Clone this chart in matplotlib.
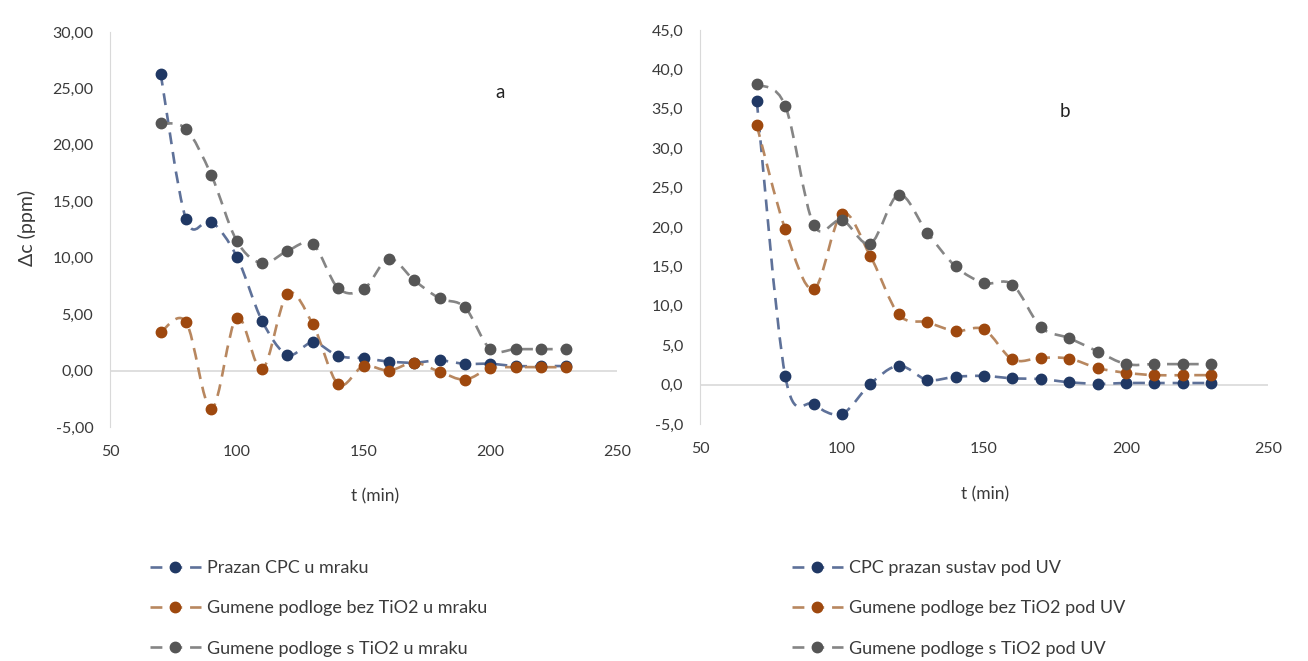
import matplotlib
matplotlib.use('Agg')
import matplotlib.pyplot as plt
from matplotlib.path import Path
from matplotlib.patches import PathPatch
from matplotlib.lines import Line2D

plt.rcParams['font.family'] = ['Lato', 'DejaVu Sans']

# vrijeme (min)
t_min = [70, 80, 90, 100, 110, 120, 130, 140, 150, 160, 170, 180, 190, 200, 210, 220, 230]

# a - u mraku
prazan_mrak = [26.3, 13.4, 13.2, 10.1, 4.4, 1.4, 2.5, 1.3, 1.1, 0.8, 0.7, 0.9, 0.6, 0.6, 0.4, 0.4, 0.4]
bez_tio2_mrak = [3.4, 4.3, -3.4, 4.7, 0.1, 6.8, 4.1, -1.2, 0.4, 0.0, 0.7, -0.1, -0.8, 0.2, 0.3, 0.3, 0.3]
s_tio2_mrak = [21.9, 21.4, 17.3, 11.5, 9.5, 10.6, 11.2, 7.3, 7.2, 9.9, 8.0, 6.4, 5.6, 1.9, 1.9, 1.9, 1.9]

# b - pod UV
prazan_uv = [36.0, 1.1, -2.5, -3.7, 0.1, 2.4, 0.6, 1.0, 1.1, 0.8, 0.7, 0.3, 0.1, 0.2, 0.2, 0.2, 0.2]
bez_tio2_uv = [32.9, 19.7, 12.1, 21.7, 16.3, 8.9, 7.9, 6.8, 7.0, 3.2, 3.4, 3.3, 2.1, 1.5, 1.2, 1.2, 1.2]
s_tio2_uv = [38.1, 35.4, 20.3, 20.9, 17.9, 24.1, 19.3, 15.0, 12.9, 12.7, 7.3, 5.9, 4.2, 2.6, 2.6, 2.6, 2.6]

labels_a = ['Prazan CPC u mraku', 'Gumene podloge bez TiO2 u mraku', 'Gumene podloge s TiO2 u mraku']
labels_b = ['CPC prazan sustav pod UV', 'Gumene podloge bez TiO2 pod UV', 'Gumene podloge s TiO2 pod UV']

x_ticks = [50, 100, 150, 200, 250]
y_ticks_a = [-5, 0, 5, 10, 15, 20, 25, 30]
y_ticks_b = [-5, 0, 5, 10, 15, 20, 25, 30, 35, 40, 45]

marker_colors = ['#203864', '#9E480E', '#555555']
line_colors = ['#5E7199', '#B8875F', '#858585']
DASH = (0, (4.5, 3))
TXT = '#3A3A3A'


def smooth_path(x, y):
    # excel-like "smoothed line": bezier segments through the points
    n = len(x)
    verts = [(x[0], y[0])]
    codes = [Path.MOVETO]
    for i in range(n - 1):
        i0 = max(i - 1, 0)
        i3 = min(i + 2, n - 1)
        c1 = (x[i] + (x[i + 1] - x[i0]) / 6, y[i] + (y[i + 1] - y[i0]) / 6)
        c2 = (x[i + 1] - (x[i3] - x[i]) / 6, y[i + 1] - (y[i3] - y[i]) / 6)
        verts += [c1, c2, (x[i + 1], y[i + 1])]
        codes += [Path.CURVE4] * 3
    return Path(verts, codes)


def plot_panel(ax, series, y_ticks, decimals, tag, tag_xy, xlabel_xy):
    for i, values in enumerate(series):
        ax.add_patch(PathPatch(smooth_path(t_min, values), fill=False, edgecolor=line_colors[i],
                               lw=1.9, linestyle=DASH, zorder=2))
        ax.plot(t_min, values, 'o', color=marker_colors[i], ms=7.5, zorder=3)
    ax.axhline(0, color='#D9D9D9', lw=1.2, zorder=1)
    ax.set_xlim(50, 250)
    ax.set_ylim(y_ticks[0], y_ticks[-1])
    ax.set_xticks(x_ticks)
    ax.set_yticks(y_ticks)
    ax.set_yticklabels([f'{v:.{decimals}f}'.replace('.', ',') for v in y_ticks])
    for s in ['top', 'right', 'bottom']:
        ax.spines[s].set_visible(False)
    ax.spines['left'].set_color('#D9D9D9')
    ax.tick_params(length=0, labelsize=11.5, colors=TXT)
    ax.tick_params(axis='x', pad=13)
    ax.tick_params(axis='y', pad=12)
    ax.set_xlabel('t (min)', fontsize=12.5, color=TXT)
    ax.xaxis.set_label_coords(*xlabel_xy)
    ax.text(tag_xy[0], tag_xy[1], tag, transform=ax.transAxes, fontsize=13.5, color='#222222',
            ha='center', va='center')


def legend_for(fig, labels, anchor):
    handles = [Line2D([], [], color=line_colors[i], lw=1.9, linestyle=DASH, marker='o',
                      mfc=marker_colors[i], mec=marker_colors[i], ms=7.5) for i in range(3)]
    fig.legend(handles, labels, loc='upper left', bbox_to_anchor=anchor, frameon=False,
               fontsize=13, handlelength=2.8, handletextpad=0.35, labelspacing=1.35,
               borderpad=0, borderaxespad=0, labelcolor=TXT)


fig = plt.figure(figsize=(13.08, 6.61), dpi=100)
ax_a = fig.add_axes([110 / 1308, 1 - 427 / 661, 507 / 1308, 395 / 661])
ax_b = fig.add_axes([700 / 1308, 1 - 424 / 661, 568 / 1308, 394 / 661])

plot_panel(ax_a, [prazan_mrak, bez_tio2_mrak, s_tio2_mrak], y_ticks_a, 2, 'a', (0.769, 0.848), (0.523, -0.155))
plot_panel(ax_b, [prazan_uv, bez_tio2_uv, s_tio2_uv], y_ticks_b, 1, 'b', (0.643, 0.792), (0.502, -0.157))

ax_a.set_ylabel('Δc (ppm)', fontsize=14, color=TXT)
ax_a.yaxis.set_label_coords(-0.145, 0.504)

legend_for(fig, labels_a, (150 / 1308, 1 - 560 / 661))
legend_for(fig, labels_b, (792 / 1308, 1 - 560 / 661))

fig.savefig('out.png', dpi=100, facecolor='white')
